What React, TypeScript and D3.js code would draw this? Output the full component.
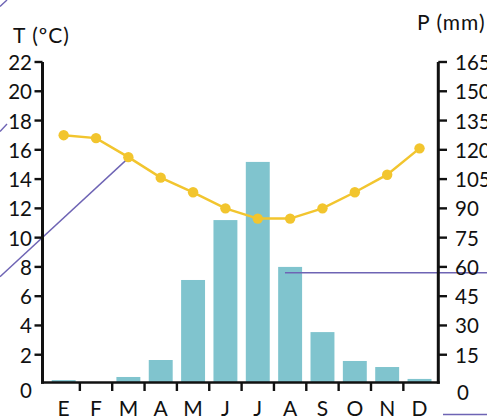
import React from "react";
import * as d3 from "d3";

const months = ["E", "F", "M", "A", "M", "J", "J", "A", "S", "O", "N", "D"];
const temperature = [17.0, 16.8, 15.5, 14.1, 13.1, 12.0, 11.3, 11.3, 12.0, 13.1, 14.3, 16.1];
const precipitation = [2.0, 0, 3.6, 12.3, 53.3, 84.0, 113.8, 60.0, 26.6, 11.8, 8.7, 2.6];
const tempTicks = [2, 4, 6, 8, 10, 12, 14, 16, 18, 20, 22];
const precTicks = [15, 30, 45, 60, 75, 90, 105, 120, 135, 150, 165];

const W = 487;
const H = 417;
const FONT = "Lato, 'Open Sans', sans-serif";
const INK = "#111";
const BAR = "#80C4CE";
const LINE = "#F2C52E";
const PURPLE = "#6E64B4";

export default function App() {
  const axL = 42.5;
  const axR = 438.3;
  const base = 382.5;
  const yT = d3.scaleLinear().domain([0, 22]).range([384, 62]);
  const yP = d3.scaleLinear().domain([0, 165]).range([384, 62]);
  const x = d3
    .scaleBand<number>()
    .domain(months.map((_, i) => i))
    .range([47.5, 435.7])
    .padding(0);
  const step = x.step();
  const cx = (i: number) => (x(i) as number) + step / 2;

  const line = d3
    .line<number>()
    .x((_, i) => cx(i))
    .y((d) => yT(d));

  const marchPt = { x: cx(2), y: yT(temperature[2]) };

  return (
    <svg
      width={W}
      height={H}
      style={{ position: "absolute", left: 0, top: 0, overflow: "hidden" }}
      fontFamily={FONT}
    >
      <rect width={W} height={H} fill="#fff" />
      {/* bars */}
      {precipitation.map((p, i) => {
        const top = yP(p);
        return p > 0 ? (
          <rect
            key={i}
            x={(x(i) as number) + step * 0.13}
            width={step * 0.74}
            y={top}
            height={Math.max(0, 382 - top)}
            fill={BAR}
          />
        ) : null;
      })}

      {/* decorative annotation lines */}
      <line x1={0} y1={276.7} x2={marchPt.x + 1} y2={marchPt.y} stroke={PURPLE} strokeWidth={1.4} />
      <line x1={0} y1={131.5} x2={7} y2={124} stroke={PURPLE} strokeWidth={1.4} />
      <line x1={0} y1={6.5} x2={7} y2={0} stroke={PURPLE} strokeWidth={1.4} />
      <line x1={(x(7) as number) + 11} y1={yP(57)} x2={W} y2={yP(57)} stroke={PURPLE} strokeWidth={1.4} />
      <line x1={443} y1={414.5} x2={W} y2={414.5} stroke={PURPLE} strokeWidth={1.4} />

      {/* temperature line */}
      <path d={line(temperature) || ""} fill="none" stroke={LINE} strokeWidth={2.5} />
      {temperature.map((t, i) => (
        <circle key={i} cx={cx(i)} cy={yT(t)} r={5.2} fill={LINE} />
      ))}

      {/* axes */}
      <line x1={axL} y1={62} x2={axL} y2={base + 1.2} stroke={INK} strokeWidth={3} />
      <line x1={axR} y1={62} x2={axR} y2={base + 1.2} stroke={INK} strokeWidth={3} />
      <line x1={axL - 1.5} y1={base} x2={axR + 1.5} y2={base} stroke={INK} strokeWidth={2.6} />

      {tempTicks.map((t) => (
        <g key={t}>
          <line x1={34.5} x2={axL} y1={yT(t)} y2={yT(t)} stroke={INK} strokeWidth={2.4} />
          <text x={32} y={yT(t)} textAnchor="end" dominantBaseline="central" fontSize={20.5} fill={INK}>
            {t}
          </text>
        </g>
      ))}
      <text x={32} y={yT(0) + 6} textAnchor="end" dominantBaseline="central" fontSize={20.5} fill={INK}>
        0
      </text>

      {precTicks.map((p) => (
        <g key={p}>
          <line x1={axR} x2={447} y1={yP(p)} y2={yP(p)} stroke={INK} strokeWidth={2.4} />
          <text x={455} y={yP(p)} textAnchor="start" dominantBaseline="central" fontSize={20.5} fill={INK}>
            {p}
          </text>
        </g>
      ))}
      <text x={457} y={yP(0) + 8} textAnchor="start" dominantBaseline="central" fontSize={20.5} fill={INK}>
        0
      </text>

      {months.map((m, i) => (
        <g key={i}>
          {i > 0 ? (
            <line
              x1={x(i) as number}
              x2={x(i) as number}
              y1={base}
              y2={391}
              stroke={INK}
              strokeWidth={2.4}
            />
          ) : null}
          <text x={cx(i)} y={407.5} textAnchor="middle" dominantBaseline="central" fontSize={21} fill={INK}>
            {m}
          </text>
        </g>
      ))}

      <text x={13} y={34} dominantBaseline="central" fontSize={21} letterSpacing={1} fill={INK}>
        T (ºC)
      </text>
      <text x={417} y={21} dominantBaseline="central" fontSize={21} letterSpacing={1} fill={INK}>
        P (mm)
      </text>
    </svg>
  );
}
